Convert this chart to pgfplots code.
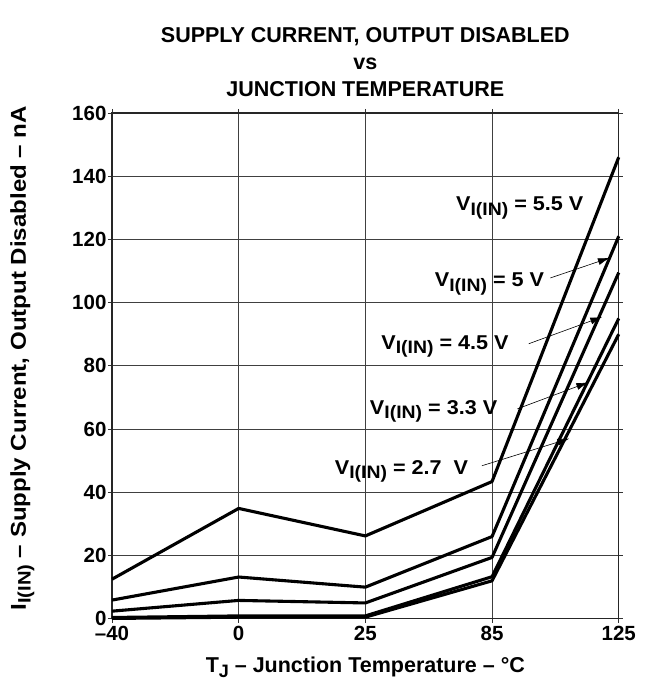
\documentclass[border=0pt]{standalone}
\usepackage{fontspec}
\setmainfont{Liberation Sans}
\usepackage{graphicx}
\usepackage{pgfplots}
\pgfplotsset{compat=1.18}
\usetikzlibrary{arrows.meta}
% subscript: size, text
\newcommand\sub[2]{\raisebox{-0.42ex}{\fontsize{#1}{#1}\selectfont #2}}
\newcommand\vin{V\sub{18}{I(IN)}}

\begin{document}
\begin{tikzpicture}
  \begin{axis}[
      scale only axis,
      width=507pt, height=506pt,
      xmin=0, xmax=4, ymin=0, ymax=160,
      xtick={0,1,2,3,4},
      xticklabels={–40,0,25,85,125},
      ytick={0,20,...,160},
      yticklabels={0,20,40,60,80,100,120,140,160},
      tick align=outside,
      major tick length=4pt,
      tick style={black!80, line width=0.8pt},
      grid=major,
      grid style={black!75, line width=0.8pt},
      axis line style={black!85, line width=1.1pt},
      tick label style={font=\bfseries\fontsize{20.5}{20.5}\selectfont},
      yticklabel style={xshift=2pt},
      label style={font=\bfseries\fontsize{21.5}{21.5}\selectfont},
      xlabel={T\sub{18}{J} – Junction Temperature – °C},
      ylabel={\scalebox{1.12}[1]{I\sub{18}{I(IN)} – Supply Current, Output Disabled – nA}},
      xlabel style={at={(axis description cs:0.5,-0.1067)}, anchor=base},
      ylabel style={at={(axis description cs:-0.177,0.515)}, anchor=center},
      clip=false,
      curve/.style={black, mark=none, line width=3.1pt, line join=round},
    ]
    % V_I(IN) = 5.5 V
    \addplot[curve] coordinates {(0,12.5) (1,34.9) (2,26.2) (3,43.4) (4,146)};
    % V_I(IN) = 5 V
    \addplot[curve] coordinates {(0,5.9) (1,13.2) (2,10) (3,26) (4,121)};
    % V_I(IN) = 4.5 V
    \addplot[curve] coordinates {(0,2.4) (1,5.8) (2,5) (3,19.4) (4,109.5)};
    % V_I(IN) = 3.3 V
    \addplot[curve] coordinates {(0,0.4) (1,0.9) (2,0.9) (3,13.3) (4,95)};
    % V_I(IN) = 2.7 V
    \addplot[curve] coordinates {(0,0.1) (1,0.5) (2,0.5) (3,12) (4,90)};

    \begin{scope}[every node/.style={font=\bfseries\fontsize{20}{20}\selectfont, inner sep=1pt}]
      \node[anchor=east] at (axis cs:3.73,130) {\scalebox{1.08}[1]{\vin{} = 5.5 V}};
      \node[anchor=east] at (axis cs:3.42,105.9) {\scalebox{1.08}[1]{\vin{} = 5 V}};
      \node[anchor=east] at (axis cs:3.14,86.2) {\scalebox{1.08}[1]{\vin{} = 4.5 V}};
      \node[anchor=east] at (axis cs:3.05,65.6) {\scalebox{1.08}[1]{\vin{} = 3.3 V}};
      \node[anchor=east] at (axis cs:2.82,46.6) {\scalebox{1.08}[1]{\vin{} = 2.7\ \ V}};
    \end{scope}
    \begin{scope}[-{Latex[length=12pt,width=7pt]}, line width=0.6pt]
      \draw (axis cs:3.46,107.8) -- (axis cs:3.93,114.2);
      \draw (axis cs:3.29,87.0) -- (axis cs:3.87,95.5);
      \draw (axis cs:3.20,66.4) -- (axis cs:3.76,74.8);
      \draw (axis cs:2.92,48.4) -- (axis cs:3.61,57.0);
    \end{scope}

    \begin{scope}[every node/.style={anchor=base, inner sep=0pt,
                  font=\bfseries\fontsize{21.5}{21.5}\selectfont}]
      \node at (axis description cs:0.5,1.1400) {SUPPLY CURRENT, OUTPUT DISABLED};
      \node at (axis description cs:0.5,1.0860) {vs};
      \node at (axis description cs:0.5,1.0316) {JUNCTION TEMPERATURE};
    \end{scope}
  \end{axis}
  \path ([shift={(-112pt,-62pt)}]current axis.south west)
    rectangle ([shift={(31pt,113pt)}]current axis.north east);
\end{tikzpicture}
\end{document}
